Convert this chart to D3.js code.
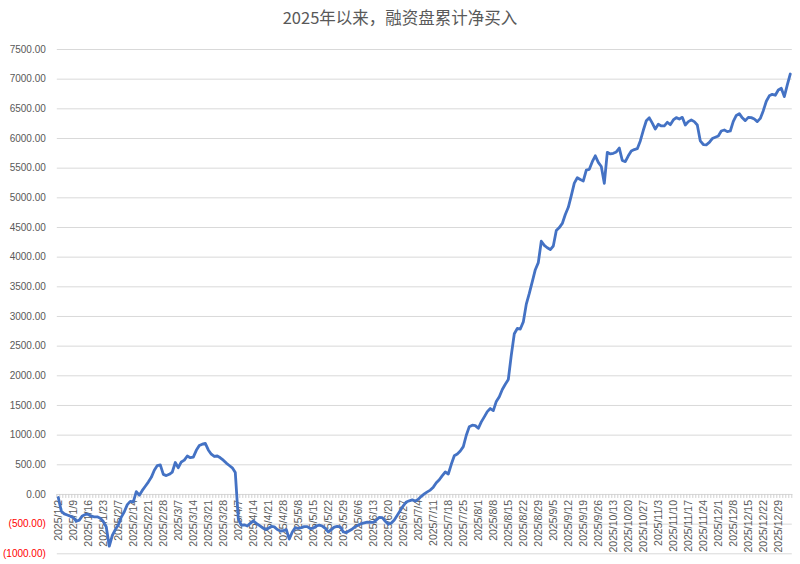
<!DOCTYPE html>
<html><head><meta charset="utf-8">
<script src="https://cdn.jsdelivr.net/npm/d3@7"></script>
<style>html,body{margin:0;padding:0;background:#fff;}svg{display:block;}</style>
</head><body>
<svg id="chart" width="800" height="564"></svg>
<script>
const title = "2025年以来，融资盘累计净买入";
const dates = [
"2025/1/2","2025/1/3","2025/1/6","2025/1/7","2025/1/8","2025/1/9","2025/1/10","2025/1/13","2025/1/14","2025/1/15","2025/1/16","2025/1/17","2025/1/20","2025/1/21","2025/1/22","2025/1/23","2025/1/24","2025/1/27",
"2025/2/5","2025/2/6","2025/2/7","2025/2/10","2025/2/11","2025/2/12","2025/2/13","2025/2/14","2025/2/17","2025/2/18","2025/2/19","2025/2/20","2025/2/21","2025/2/24","2025/2/25","2025/2/26","2025/2/27","2025/2/28",
"2025/3/3","2025/3/4","2025/3/5","2025/3/6","2025/3/7","2025/3/10","2025/3/11","2025/3/12","2025/3/13","2025/3/14","2025/3/17","2025/3/18","2025/3/19","2025/3/20","2025/3/21","2025/3/24","2025/3/25","2025/3/26","2025/3/27","2025/3/28","2025/3/31",
"2025/4/1","2025/4/2","2025/4/3","2025/4/7","2025/4/8","2025/4/9","2025/4/10","2025/4/11","2025/4/14","2025/4/15","2025/4/16","2025/4/17","2025/4/18","2025/4/21","2025/4/22","2025/4/23","2025/4/24","2025/4/25","2025/4/28","2025/4/29","2025/4/30",
"2025/5/6","2025/5/7","2025/5/8","2025/5/9","2025/5/12","2025/5/13","2025/5/14","2025/5/15","2025/5/16","2025/5/19","2025/5/20","2025/5/21","2025/5/22","2025/5/23","2025/5/26","2025/5/27","2025/5/28","2025/5/29","2025/5/30",
"2025/6/3","2025/6/4","2025/6/5","2025/6/6","2025/6/9","2025/6/10","2025/6/11","2025/6/12","2025/6/13","2025/6/16","2025/6/17","2025/6/18","2025/6/19","2025/6/20","2025/6/23","2025/6/24","2025/6/25","2025/6/26","2025/6/27","2025/6/30",
"2025/7/1","2025/7/2","2025/7/3","2025/7/4","2025/7/7","2025/7/8","2025/7/9","2025/7/10","2025/7/11","2025/7/14","2025/7/15","2025/7/16","2025/7/17","2025/7/18","2025/7/21","2025/7/22","2025/7/23","2025/7/24","2025/7/25","2025/7/28","2025/7/29","2025/7/30","2025/7/31",
"2025/8/1","2025/8/4","2025/8/5","2025/8/6","2025/8/7","2025/8/8","2025/8/11","2025/8/12","2025/8/13","2025/8/14","2025/8/15","2025/8/18","2025/8/19","2025/8/20","2025/8/21","2025/8/22","2025/8/25","2025/8/26","2025/8/27","2025/8/28","2025/8/29",
"2025/9/1","2025/9/2","2025/9/3","2025/9/4","2025/9/5","2025/9/8","2025/9/9","2025/9/10","2025/9/11","2025/9/12","2025/9/15","2025/9/16","2025/9/17","2025/9/18","2025/9/19","2025/9/22","2025/9/23","2025/9/24","2025/9/25","2025/9/26","2025/9/29","2025/9/30",
"2025/10/9","2025/10/10","2025/10/13","2025/10/14","2025/10/15","2025/10/16","2025/10/17","2025/10/20","2025/10/21","2025/10/22","2025/10/23","2025/10/24","2025/10/27","2025/10/28","2025/10/29","2025/10/30","2025/10/31",
"2025/11/3","2025/11/4","2025/11/5","2025/11/6","2025/11/7","2025/11/10","2025/11/11","2025/11/12","2025/11/13","2025/11/14","2025/11/17","2025/11/18","2025/11/19","2025/11/20","2025/11/21","2025/11/24","2025/11/25","2025/11/26","2025/11/27","2025/11/28",
"2025/12/1","2025/12/2","2025/12/3","2025/12/4","2025/12/5","2025/12/8","2025/12/9","2025/12/10","2025/12/11","2025/12/12","2025/12/15","2025/12/16","2025/12/17","2025/12/18","2025/12/19","2025/12/22","2025/12/23","2025/12/24","2025/12/25","2025/12/26","2025/12/29","2025/12/30","2025/12/31",
"2026/1/5","2026/1/6"
];
const cumNetBuy = [
-60,-290,-335,-355,-375,-400,-460,-440,-370,-345,-345,-375,-385,-385,-410,-465,-560,-880,
-700,-600,-522,-390,-300,-180,-125,-135,40,-20,60,130,200,280,400,478,490,330,
310,332,370,530,443,540,570,640,612,620,735,815,840,852,742,670,632,640,610,570,520,
480,440,360,-420,-525,-520,-540,-494,-455,-494,-530,-565,-600,-580,-545,-555,-600,-624,-620,-600,-760,
-640,-568,-580,-568,-550,-550,-585,-575,-540,-525,-540,-578,-640,-600,-560,-545,-555,-640,-650,
-620,-590,-552,-525,-500,-488,-475,-480,-480,-440,-395,-400,-460,-510,-490,-438,-360,-280,-200,-135,
-115,-100,-120,-90,-40,0,35,65,115,188,240,310,370,337,500,645,674,725,798,990,1135,1160,1152,
1107,1215,1300,1388,1440,1405,1560,1640,1760,1850,1930,2340,2700,2790,2780,2900,3200,3380,3580,3780,3900,
4260,4190,4150,4120,4180,4440,4490,4560,4710,4832,5030,5240,5330,5300,5276,5460,5472,5600,5700,5590,5520,5236,
5759,5731,5742,5765,5830,5620,5601,5700,5780,5805,5820,5950,6130,6290,6340,6250,6150,
6231,6203,6203,6265,6225,6304,6343,6320,6348,6220,6276,6304,6276,6220,5950,5890,5885,5925,5990,6012,
6034,6118,6135,6107,6118,6280,6380,6410,6340,6293,6348,6343,6320,6276,6330,6460,6620,6710,6736,6720,6809,6837,6697,
6894,7079
];
const yTicks = [-1000,-500,0,500,1000,1500,2000,2500,3000,3500,4000,4500,5000,5500,6000,6500,7000,7500];
const labelEvery = 5;

const svg = d3.select("#chart");
const font = "'Liberation Sans', Arial, sans-serif";

const x = d3.scaleBand().domain(dates).range([56.8, 791.8]).padding(0);
const y = d3.scaleLinear().domain([-1000, 7500]).range([553.3, 49]);
const bw = x.bandwidth();

// title
svg.append("text").attr("x", 400).attr("y", 24).attr("text-anchor", "middle")
  .attr("font-family", "'Noto Sans CJK SC', sans-serif").attr("font-size", 16.5)
  .attr("fill", "#595959").text(title);

// gridlines
const yAxis = d3.axisLeft(y).tickValues(yTicks).tickSize(-(791.8 - 56.8)).tickPadding(11)
  .tickFormat(v => v < 0 ? "(" + d3.format(".2f")(-v) + ")" : d3.format(".2f")(v));
const gy = svg.append("g").attr("transform", "translate(56.8,0)").call(yAxis);
gy.select(".domain").remove();
gy.selectAll(".tick line").attr("stroke", "#d9d9d9").attr("stroke-width", 1);
gy.selectAll(".tick text").attr("font-family", font).attr("font-size", 10)
  .attr("fill", d => d < 0 ? "#ff0000" : "#595959");

// category axis at zero
const xAxis = d3.axisBottom(x).tickSize(0).tickFormat((d, i) => i % labelEvery === 0 ? d : "");
const gx = svg.append("g").attr("transform", `translate(0,${y(0)})`).call(xAxis);
gx.select(".domain").attr("stroke", "#d9d9d9");
gx.selectAll(".tick text")
  .attr("font-family", font).attr("font-size", 10.5).attr("fill", "#595959")
  .attr("text-anchor", "end")
  .attr("transform", "rotate(-90)")
  .attr("x", -6).attr("y", 0).attr("dy", "0.35em");
// tick marks between categories
const bounds = dates.map(d => x(d)).concat([x(dates[dates.length - 1]) + bw]);
svg.append("g").selectAll("line").data(bounds).join("line")
  .attr("x1", d => d).attr("x2", d => d)
  .attr("y1", y(0)).attr("y2", y(0) + 4)
  .attr("stroke", "#d0d0d0").attr("stroke-width", 1);

// line
const line = d3.line()
  .x((d, i) => x(dates[i]) + bw / 2)
  .y(d => y(d));
svg.append("path").datum(cumNetBuy)
  .attr("d", line).attr("fill", "none")
  .attr("stroke", "#4472c4").attr("stroke-width", 2.8)
  .attr("stroke-linejoin", "round").attr("stroke-linecap", "round");
</script>
</body></html>
